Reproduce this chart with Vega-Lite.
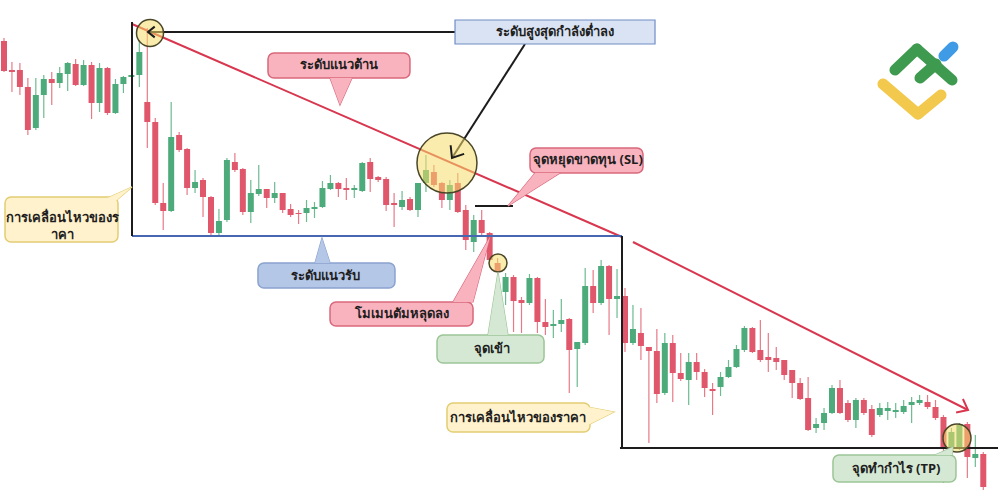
{
  "$schema": "https://vega.github.io/schema/vega-lite/v6.json",
  "width": 1000,
  "height": 503,
  "autosize": {"type": "fit", "contains": "padding"},
  "padding": 0,
  "background": "white",
  "config": {"view": {"stroke": null}},
  "datasets": {
    "candles": [
      {"i":0,"o":462,"h":465,"l":431,"c":432},{"i":1,"o":433,"h":441,"l":411,"c":431},{"i":2,"o":433,"h":440,"l":408,"c":416},{"i":3,"o":416,"h":425,"l":368,"c":373},
      {"i":4,"o":375,"h":425,"l":373,"c":408},{"i":5,"o":408,"h":428,"l":385,"c":424},{"i":6,"o":424,"h":431,"l":398,"c":420},{"i":7,"o":420,"h":436,"l":415,"c":430},
      {"i":8,"o":429,"h":441,"l":412,"c":440},{"i":9,"o":439,"h":444,"l":417,"c":418},{"i":10,"o":418,"h":443,"l":417,"c":438},{"i":11,"o":438,"h":441,"l":384,"c":400},
      {"i":12,"o":400,"h":440,"l":391,"c":435},{"i":13,"o":435,"h":436,"l":388,"c":390},{"i":14,"o":390,"h":424,"l":389,"c":419},{"i":15,"o":419,"h":427,"l":410,"c":426},
      {"i":16,"o":426,"h":428,"l":426,"c":428},{"i":17,"o":428,"h":463,"l":416,"c":451},{"i":18,"o":401,"h":475,"l":355,"c":381},{"i":19,"o":381,"h":385,"l":298,"c":300},
      {"i":20,"o":300,"h":320,"l":273,"c":292},{"i":21,"o":292,"h":401,"l":291,"c":366},{"i":22,"o":368,"h":371,"l":351,"c":353},{"i":23,"o":354,"h":355,"l":308,"c":315},
      {"i":24,"o":315,"h":333,"l":310,"c":321},{"i":25,"o":323,"h":325,"l":286,"c":306},{"i":26,"o":306,"h":307,"l":267,"c":270},{"i":27,"o":270,"h":294,"l":266,"c":282},
      {"i":28,"o":283,"h":345,"l":281,"c":343},{"i":29,"o":341,"h":350,"l":331,"c":333},{"i":30,"o":334,"h":335,"l":288,"c":291},{"i":31,"o":291,"h":323,"l":280,"c":310},
      {"i":32,"o":309,"h":338,"l":307,"c":314},{"i":33,"o":314,"h":314,"l":295,"c":305},{"i":34,"o":305,"h":321,"l":300,"c":310},{"i":35,"o":310,"h":310,"l":290,"c":293},
      {"i":36,"o":294,"h":299,"l":286,"c":288},{"i":37,"o":290,"h":293,"l":279,"c":289},{"i":38,"o":290,"h":303,"l":281,"c":295},{"i":39,"o":294,"h":301,"l":285,"c":296},
      {"i":40,"o":296,"h":322,"l":295,"c":315},{"i":41,"o":314,"h":328,"l":313,"c":320},{"i":42,"o":320,"h":321,"l":306,"c":314},{"i":43,"o":315,"h":325,"l":303,"c":313},
      {"i":44,"o":313,"h":318,"l":305,"c":315},{"i":45,"o":312,"h":341,"l":311,"c":340},{"i":46,"o":341,"h":345,"l":311,"c":324},{"i":47,"o":326,"h":327,"l":321,"c":323},
      {"i":48,"o":324,"h":326,"l":292,"c":298},{"i":49,"o":300,"h":310,"l":276,"c":298},{"i":50,"o":296,"h":312,"l":293,"c":303},{"i":51,"o":304,"h":306,"l":292,"c":293},
      {"i":52,"o":293,"h":320,"l":286,"c":320},{"i":53,"o":320,"h":348,"l":311,"c":333},{"i":54,"o":331,"h":338,"l":316,"c":318},{"i":55,"o":320,"h":321,"l":295,"c":303},
      {"i":56,"o":303,"h":323,"l":293,"c":318},{"i":57,"o":320,"h":330,"l":290,"c":291},{"i":58,"o":293,"h":298,"l":253,"c":263},{"i":59,"o":261,"h":288,"l":251,"c":283},
      {"i":60,"o":283,"h":293,"l":268,"c":270},{"i":61,"o":270,"h":271,"l":241,"c":243},{"i":62,"o":240,"h":245,"l":216,"c":231},{"i":63,"o":211,"h":230,"l":198,"c":226},
      {"i":64,"o":226,"h":228,"l":171,"c":202},{"i":65,"o":203,"h":206,"l":170,"c":200},{"i":66,"o":200,"h":229,"l":198,"c":225},{"i":67,"o":225,"h":226,"l":170,"c":181},
      {"i":68,"o":181,"h":204,"l":168,"c":176},{"i":69,"o":177,"h":193,"l":165,"c":179},{"i":70,"o":179,"h":204,"l":171,"c":183},{"i":71,"o":184,"h":185,"l":110,"c":153},
      {"i":72,"o":154,"h":161,"l":116,"c":161},{"i":73,"o":160,"h":235,"l":158,"c":217},{"i":74,"o":217,"h":233,"l":190,"c":200},{"i":75,"o":200,"h":243,"l":198,"c":237},
      {"i":76,"o":237,"h":238,"l":168,"c":204},{"i":77,"o":204,"h":234,"l":185,"c":207},{"i":78,"o":207,"h":215,"l":151,"c":160},{"i":79,"o":160,"h":198,"l":158,"c":174},
      {"i":80,"o":170,"h":195,"l":143,"c":157},{"i":81,"o":156,"h":156,"l":60,"c":152},{"i":82,"o":152,"h":174,"l":100,"c":109},{"i":83,"o":110,"h":170,"l":108,"c":160},
      {"i":84,"o":160,"h":168,"l":101,"c":130},{"i":85,"o":130,"h":150,"l":122,"c":124},{"i":86,"o":123,"h":150,"l":98,"c":141},{"i":87,"o":141,"h":150,"l":123,"c":131},
      {"i":88,"o":131,"h":134,"l":106,"c":115},{"i":89,"o":114,"h":120,"l":88,"c":112},{"i":90,"o":116,"h":131,"l":107,"c":126},{"i":91,"o":126,"h":143,"l":125,"c":136},
      {"i":92,"o":136,"h":158,"l":135,"c":154},{"i":93,"o":153,"h":177,"l":151,"c":175},{"i":94,"o":175,"h":176,"l":150,"c":151},{"i":95,"o":153,"h":183,"l":141,"c":143},
      {"i":96,"o":146,"h":170,"l":131,"c":143},{"i":97,"o":145,"h":156,"l":133,"c":141},{"i":98,"o":143,"h":143,"l":123,"c":128},{"i":99,"o":133,"h":133,"l":105,"c":120},
      {"i":100,"o":120,"h":125,"l":103,"c":104},{"i":101,"o":105,"h":126,"l":72,"c":73},{"i":102,"o":75,"h":85,"l":70,"c":79},{"i":103,"o":80,"h":95,"l":73,"c":90},
      {"i":104,"o":90,"h":118,"l":89,"c":115},{"i":105,"o":115,"h":123,"l":89,"c":90},{"i":106,"o":100,"h":103,"l":81,"c":83},{"i":107,"o":83,"h":105,"l":75,"c":103},
      {"i":108,"o":103,"h":105,"l":88,"c":90},{"i":109,"o":94,"h":98,"l":66,"c":68},{"i":110,"o":88,"h":100,"l":86,"c":95},{"i":111,"o":92,"h":101,"l":83,"c":95},
      {"i":112,"o":91,"h":100,"l":85,"c":93},{"i":113,"o":91,"h":103,"l":89,"c":97},{"i":114,"o":98,"h":106,"l":80,"c":101},{"i":115,"o":100,"h":108,"l":98,"c":103},
      {"i":116,"o":101,"h":108,"l":94,"c":96},{"i":117,"o":96,"h":103,"l":83,"c":85},{"i":118,"o":86,"h":88,"l":20,"c":56},{"i":119,"o":56,"h":75,"l":54,"c":71},
      {"i":120,"o":55,"h":80,"l":53,"c":78},{"i":121,"o":79,"h":81,"l":25,"c":46},{"i":122,"o":45,"h":68,"l":36,"c":49},{"i":123,"o":49,"h":51,"l":13,"c":16}
    ],
    "lines": [
      {"i":16.08,"p":479,"i2":77.62,"p2":266,"k":"red"},
      {"i":79.0,"p":261,"i2":121.08,"p2":93,"k":"red"},
      {"i":16.08,"p":267,"i2":77.62,"p2":267,"k":"blue"},
      {"i":16.08,"p":481,"i2":16.08,"p2":267,"k":"black"},
      {"i":18.09,"p":471,"i2":56.65,"p2":471,"k":"black"},
      {"i":77.62,"p":267,"i2":77.62,"p2":55,"k":"black"},
      {"i":77.37,"p":55,"i2":124.85,"p2":55,"k":"black"},
      {"i":59.16,"p":297,"i2":63.93,"p2":297,"k":"black"},
      {"i":65.44,"p":459,"i2":56.27,"p2":345,"k":"black"}
    ],
    "boxes": [
      {"i":33.16,"i2":50.99,"p":450,"p2":425,"k":"pink"},
      {"i":66.07,"i2":80.26,"p":355,"p2":330,"k":"pink"},
      {"i":0.13,"i2":14.32,"p":306,"p2":261,"k":"yellow"},
      {"i":31.90,"i2":49.11,"p":240,"p2":215,"k":"blue"},
      {"i":40.95,"i2":58.91,"p":201,"p2":177,"k":"pink"},
      {"i":54.39,"i2":67.83,"p":168,"p2":140,"k":"green"},
      {"i":55.64,"i2":73.60,"p":100,"p2":71,"k":"yellow"},
      {"i":104.12,"i2":119.57,"p":48,"p2":21,"k":"green"}
    ],
    "pointers": [
      {"id":"r","i":40.95,"p":425,"p2":425,"k":"pink"},{"id":"r","i":42.2,"p":398,"p2":425,"k":"pink"},{"id":"r","i":43.71,"p":425,"p2":425,"k":"pink"},
      {"id":"sl","i":63.30,"p":297,"p2":297,"k":"pink"},{"id":"sl","i":66.7,"p":330,"p2":314.2,"k":"pink"},{"id":"sl","i":69.83,"p":330,"p2":330,"k":"pink"},
      {"id":"m1","i":12.44,"p":303,"p2":303,"k":"yellow"},{"id":"m1","i":14.19,"p":303,"p2":309.3,"k":"yellow"},{"id":"m1","i":16.08,"p":316,"p2":316,"k":"yellow"},
      {"id":"s","i":39.06,"p":240,"p2":240,"k":"blue"},{"id":"s","i":39.94,"p":265,"p2":240,"k":"blue"},{"id":"s","i":40.95,"p":240,"p2":240,"k":"blue"},
      {"id":"mo","i":56.40,"p":201,"p2":201,"k":"pink"},{"id":"mo","i":58.91,"p":201,"p2":236.2,"k":"pink"},{"id":"mo","i":61.04,"p":266,"p2":266,"k":"pink"},
      {"id":"e","i":60.79,"p":168,"p2":168,"k":"green"},{"id":"e","i":62.05,"p":231,"p2":168,"k":"green"},{"id":"e","i":63.30,"p":168,"p2":168,"k":"green"},
      {"id":"m2","i":73.35,"p":96,"p2":78,"k":"yellow"},{"id":"m2","i":76.62,"p":91,"p2":91,"k":"yellow"},
      {"id":"tp","i":116.93,"p":48,"p2":48,"k":"green"},{"id":"tp","i":119.07,"p":48,"p2":55.6,"k":"green"},{"id":"tp","i":119.19,"p":56,"p2":56,"k":"green"}
    ],
    "labels": [
      {"i":69.21,"p":471,"t":"ระดับสูงสุดกำลังต่ำลง"},
      {"i":42.08,"p":438,"t":"ระดับแนวต้าน"},
      {"i":73.35,"p":343,"t":"จุดหยุดขาดทุน (SL)"},
      {"i":7.41,"p":285,"t":"การเคลื่อนไหวของร"},
      {"i":7.41,"p":268,"t":"าคา"},
      {"i":40.44,"p":227,"t":"ระดับแนวรับ"},
      {"i":49.99,"p":189,"t":"โมเมนตัมหลุดลง"},
      {"i":61.29,"p":154,"t":"จุดเข้า"},
      {"i":64.56,"p":85,"t":"การเคลื่อนไหวของราคา"},
      {"i":112.04,"p":34,"t":"จุดทำกำไร (TP)"}
    ],
    "logo": [
      {"i":110.40,"p":419,"i2":114.80,"p2":389,"k":"yellow"},
      {"i":114.80,"p":389,"i2":117.69,"p2":408,"k":"yellow"},
      {"i":118.06,"p":447,"i2":119.19,"p2":456,"k":"blue"},
      {"i":111.91,"p":433,"i2":114.67,"p2":454,"k":"green"},
      {"i":114.67,"p":454,"i2":119.07,"p2":423,"k":"green"},
      {"i":115.05,"p":425,"i2":117.06,"p2":439,"k":"green"}
    ]
  },
  "encoding": {
    "x": {"field": "i", "type": "quantitative", "axis": null, "scale": {"domain": [-0.5, 125.1], "nice": false, "zero": false, "padding": 0}},
    "y": {"field": "p", "type": "quantitative", "axis": null, "scale": {"domain": [0, 503], "nice": false, "zero": false, "padding": 0}}
  },
  "layer": [
    {
      "data": {"name": "candles"},
      "mark": {"type": "rule", "strokeWidth": 1.2},
      "encoding": {
        "y": {"field": "l", "type": "quantitative", "axis": null, "scale": {"domain": [0, 503], "nice": false, "zero": false, "padding": 0}},
        "y2": {"field": "h"},
        "color": {"condition": {"test": "datum.c >= datum.o", "value": "#6dbb91"}, "value": "#e77a88"}
      }
    },
    {
      "data": {"name": "candles"},
      "mark": {"type": "rule", "strokeWidth": 6},
      "encoding": {
        "y": {"field": "o", "type": "quantitative", "axis": null, "scale": {"domain": [0, 503], "nice": false, "zero": false, "padding": 0}},
        "y2": {"field": "c"},
        "color": {"condition": {"test": "datum.c >= datum.o", "value": "#4dab7b"}, "value": "#e0566b"}
      }
    },
    {
      "data": {"name": "lines"},
      "mark": {"type": "rule", "strokeWidth": 2},
      "encoding": {
        "x2": {"field": "i2"},
        "y2": {"field": "p2"},
        "color": {"condition": [{"test": "datum.k === 'red'", "value": "#d8374f"}, {"test": "datum.k === 'blue'", "value": "#4867b3"}], "value": "#1c1c1c"}
      }
    },
    {
      "data": {"values": [{"i": 18.34, "p": 470}]},
      "mark": {"type": "point", "shape": "circle", "filled": true, "size": 729, "fill": "#f5dc6a", "fillOpacity": 0.55, "stroke": "#4a4628", "strokeWidth": 1.5, "opacity": 1},
      "encoding": {}
    },
    {
      "data": {"values": [{"i": 55.64, "p": 340}]},
      "mark": {"type": "point", "shape": "circle", "filled": true, "size": 3600, "fill": "#f5dc6a", "fillOpacity": 0.55, "stroke": "#4a4628", "strokeWidth": 1.5, "opacity": 1},
      "encoding": {}
    },
    {
      "data": {"values": [{"i": 62.05, "p": 240}]},
      "mark": {"type": "point", "shape": "circle", "filled": true, "size": 324, "fill": "#f5dc6a", "fillOpacity": 0.55, "stroke": "#4a4628", "strokeWidth": 1.5, "opacity": 1},
      "encoding": {}
    },
    {
      "data": {"values": [{"i": 119.70, "p": 65}]},
      "mark": {"type": "point", "shape": "circle", "filled": true, "size": 784, "fill": "#f5dc6a", "fillOpacity": 0.55, "stroke": "#4a4628", "strokeWidth": 1.5, "opacity": 1},
      "encoding": {}
    },
    {
      "data": {"values": [{"i": 121.08, "p": 93}]},
      "mark": {"type": "point", "shape": "M -1 -0.8 L 0 0 L -1 0.8", "filled": false, "size": 360, "angle": 26.6, "stroke": "#d8374f", "strokeWidth": 2, "opacity": 1},
      "encoding": {}
    },
    {
      "data": {"values": [{"i": 56.27, "p": 345}]},
      "mark": {"type": "point", "shape": "M -1 -0.8 L 0 0 L -1 0.8", "filled": false, "size": 400, "angle": 122.6, "stroke": "#1c1c1c", "strokeWidth": 2, "opacity": 1},
      "encoding": {}
    },
    {
      "data": {"values": [{"i": 18.09, "p": 471}]},
      "mark": {"type": "point", "shape": "M -1 -0.8 L 0 0 L -1 0.8", "filled": false, "size": 180, "angle": 180, "stroke": "#1c1c1c", "strokeWidth": 2, "opacity": 1},
      "encoding": {}
    },
    {
      "data": {"name": "pointers"},
      "mark": {"type": "area", "strokeWidth": 1.2, "opacity": 1},
      "encoding": {
        "y2": {"field": "p2"},
        "detail": {"field": "id"},
        "fill": {"condition": [{"test": "datum.k === 'pink'", "value": "#f8b3be"}, {"test": "datum.k === 'yellow'", "value": "#fff2cc"}, {"test": "datum.k === 'blue'", "value": "#b4c7e7"}], "value": "#d5e8d4"},
        "stroke": {"condition": [{"test": "datum.k === 'pink'", "value": "#d9687b"}, {"test": "datum.k === 'yellow'", "value": "#e3cd72"}, {"test": "datum.k === 'blue'", "value": "#8aa3cf"}], "value": "#9cc596"}
      }
    },
    {
      "data": {"values": [{"i": 56.65, "i2": 81.77, "p": 483, "p2": 459}]},
      "mark": {"type": "rect", "fill": "#dae3f3", "stroke": "#6f8dc6", "strokeWidth": 1.2},
      "encoding": {"x2": {"field": "i2"}, "y2": {"field": "p2"}}
    },
    {
      "data": {"name": "boxes"},
      "mark": {"type": "rect", "cornerRadius": 6, "strokeWidth": 1.5},
      "encoding": {
        "x2": {"field": "i2"},
        "y2": {"field": "p2"},
        "fill": {"condition": [{"test": "datum.k === 'pink'", "value": "#f8b3be"}, {"test": "datum.k === 'yellow'", "value": "#fff2cc"}, {"test": "datum.k === 'blue'", "value": "#b4c7e7"}], "value": "#d5e8d4"},
        "stroke": {"condition": [{"test": "datum.k === 'pink'", "value": "#d9687b"}, {"test": "datum.k === 'yellow'", "value": "#e3cd72"}, {"test": "datum.k === 'blue'", "value": "#8aa3cf"}], "value": "#9cc596"}
      }
    },
    {
      "data": {"name": "pointers"},
      "mark": {"type": "area", "opacity": 1},
      "encoding": {
        "y2": {"field": "p2"},
        "detail": {"field": "id"},
        "fill": {"condition": [{"test": "datum.k === 'pink'", "value": "#f8b3be"}, {"test": "datum.k === 'yellow'", "value": "#fff2cc"}, {"test": "datum.k === 'blue'", "value": "#b4c7e7"}], "value": "#d5e8d4"}
      }
    },
    {
      "data": {"name": "labels"},
      "mark": {"type": "text", "font": "Noto Sans", "fontSize": 13, "fontWeight": "bold", "color": "#1e1e1e", "baseline": "middle", "align": "center"},
      "encoding": {"text": {"field": "t"}}
    },
    {
      "data": {"name": "logo"},
      "mark": {"type": "rule", "strokeWidth": 11, "strokeCap": "round"},
      "encoding": {
        "x2": {"field": "i2"},
        "y2": {"field": "p2"},
        "color": {"condition": [{"test": "datum.k === 'yellow'", "value": "#f2c94c"}, {"test": "datum.k === 'blue'", "value": "#3f9be6"}], "value": "#3e9a4f"}
      }
    }
  ]
}
